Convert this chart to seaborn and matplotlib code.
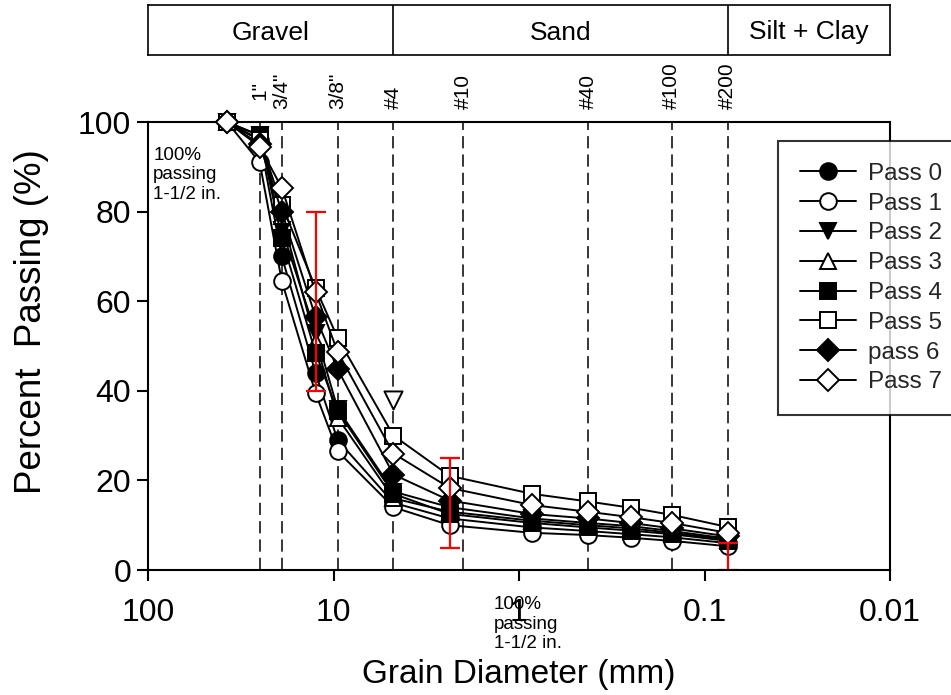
import numpy as np
import pandas as pd
import matplotlib
matplotlib.use('Agg')
import matplotlib.pyplot as plt
import seaborn as sns
from matplotlib.transforms import blended_transform_factory

# ---------------- data ----------------
sizes = [37.5, 25.0, 19.0, 12.5, 9.5, 4.75, 2.36, 0.85, 0.425, 0.25, 0.15, 0.075]
pass0 = [100, 96, 70, 44, 29, 15, 11.5, 9.5, 8.7, 8.0, 7.3, 6.0]
pass1 = [100, 91, 64.5, 39.5, 26.5, 14, 10, 8.3, 7.8, 7.2, 6.5, 5.3]
pass2 = [100, 97, 76, 53, 36, 17.5, 14, 11.5, 10.5, 9.8, 8.7, 7.0]
pass3 = [100, 96, 79, 51, 34, 16, 13, 11, 10, 9.3, 8.3, 6.8]
pass4 = [100, 97, 74, 48.5, 35.5, 17, 12.5, 10.5, 9.5, 8.8, 8.0, 6.5]
pass5 = [100, 96, 81.5, 63, 51.8, 30, 21, 17, 15.3, 13.9, 12.3, 9.6]
pass6 = [100, 95, 80, 56.5, 44.8, 21.3, 15.5, 12.5, 11.5, 10.5, 9.3, 7.5]
pass7 = [100, 94.5, 85.3, 62, 48.7, 26, 18.3, 14.5, 13, 11.8, 10.5, 8.3]
series_names = ['Pass 0', 'Pass 1', 'Pass 2', 'Pass 3', 'Pass 4', 'Pass 5', 'pass 6', 'Pass 7']

extra_x = [4.75]
extra_y = [38]

sieve_sizes = [25, 19, 9.5, 4.75, 2.0, 0.425, 0.15, 0.075]
sieve_labels = ['1"', '3/4"', '3/8"', '#4', '#10', '#40', '#100', '#200']

spec_x = [12.5, 2.36, 0.075]
spec_lo = [40, 5, 0]
spec_hi = [80, 25, 6]

zone_bounds = [100, 4.75, 0.075, 0.01]
zone_names = ['Gravel', 'Sand', 'Silt + Clay']

x_ticks = [100, 10, 1, 0.1, 0.01]
x_ticklabels = ['100', '10', '1', '0.1', '0.01']
y_ticks = [0, 20, 40, 60, 80, 100]

note_text = '100%\npassing\n1-1/2 in.'

# ---------------- style ----------------
sns.set_theme(style='white')
plt.rcParams['font.family'] = ['Liberation Sans', 'DejaVu Sans']
plt.rcParams['axes.edgecolor'] = 'black'
plt.rcParams['axes.linewidth'] = 1.5

W, H = 951, 695
fig = plt.figure(figsize=(W / 100, H / 100), dpi=100)
L, R, T, B = 148, 890, 122, 570
ax = fig.add_axes([L / W, 1 - B / H, (R - L) / W, (B - T) / H])

markers = ['o', 'o', 'v', '^', 's', 's', 'D', 'D']
fills = ['black', 'white', 'black', 'white', 'black', 'white', 'black', 'white']
msizes = [12, 12, 12, 12, 11, 11, 11, 11]
data = [pass0, pass1, pass2, pass3, pass4, pass5, pass6, pass7]

for name, vals, m, fc, ms in zip(series_names, data, markers, fills, msizes):
    df = pd.DataFrame({'size': sizes, 'passing': vals})
    sns.lineplot(data=df, x='size', y='passing', ax=ax, color='black', lw=1.4,
                 marker=m, markerfacecolor=fc, markeredgecolor='black',
                 markeredgewidth=1.4, markersize=ms, label=name,
                 clip_on=False, zorder=6)

sns.scatterplot(x=extra_x, y=extra_y, ax=ax, marker='v', s=170,
                facecolor='white', edgecolor='black', linewidth=1.4, zorder=6)

# spec error bars
mid = [(a + b) / 2 for a, b in zip(spec_lo, spec_hi)]
err = [[m - a for m, a in zip(mid, spec_lo)], [b - m for m, b in zip(mid, spec_hi)]]
ax.errorbar(spec_x, mid, yerr=err, fmt='none', ecolor='red', elinewidth=1.6,
            capsize=7, capthick=1.6, zorder=6.5)

# sieve dashed lines
for s in sieve_sizes:
    ax.axvline(s, color='black', lw=1.1, ls=(0, (8, 4)), zorder=1)

ax.set_xscale('log')
ax.set_xlim(100, 0.01)
ax.set_ylim(0, 100)
ax.set_xticks(x_ticks)
ax.set_xticklabels(x_ticklabels)
ax.xaxis.set_minor_locator(matplotlib.ticker.NullLocator())
ax.set_yticks(y_ticks)
ax.tick_params(axis='both', which='major', direction='out', length=8, width=1.5,
               labelsize=23, colors='black', pad=4)
ax.tick_params(axis='x', bottom=True, top=False, pad=12)
ax.tick_params(axis='y', left=True, right=False)
ax.spines['bottom'].set_zorder(7)
for sp in ax.spines.values():
    sp.set_color('black')
    sp.set_linewidth(1.5)

ax.set_xlabel('Grain Diameter (mm)', fontsize=24, color='black')
ax.xaxis.label.set_va('center')
ax.xaxis.set_label_coords(0.5, (B - 675) / (B - T))
ax.set_ylabel('Percent  Passing (%)', fontsize=26.5, color='black')
ax.yaxis.label.set_va('center')
ax.yaxis.set_label_coords((32 - L) / (R - L), (B - 322) / (B - T))

# sieve labels
trans = blended_transform_factory(ax.transData, ax.transAxes)
for s, lab in zip(sieve_sizes, sieve_labels):
    yy = 1.048 if lab == '1"' else 1.03
    ax.text(s, yy, lab, rotation=90, ha='center', va='bottom', fontsize=15,
            transform=trans, color='black')

# notes
ax.text(0.007, 0.945, note_text, transform=ax.transAxes, ha='left', va='top',
        fontsize=13.5, color='black', linespacing=1.2)
fig.text(494 / W, 1 - 596 / H, note_text, ha='left', va='top', fontsize=13.5,
         color='black', linespacing=1.2)

# legend
leg = ax.legend(loc='upper left', bbox_to_anchor=(778 / W, 1 - 141 / H),
                bbox_transform=fig.transFigure, frameon=True, fancybox=False,
                edgecolor='black', fontsize=17.5, handlelength=2.3,
                handletextpad=0.5, labelspacing=0.32, borderpad=0.9,
                borderaxespad=0)
leg.get_frame().set_linewidth(1.5)
leg.set_zorder(10)

# top zone box
axt = fig.add_axes([L / W, 1 - 55 / H, (R - L) / W, 50 / H])
axt.set_xscale('log')
axt.set_xlim(100, 0.01)
axt.set_ylim(0, 1)
axt.set_xticks([])
axt.set_yticks([])
axt.xaxis.set_minor_locator(matplotlib.ticker.NullLocator())
for sp in axt.spines.values():
    sp.set_color('black')
    sp.set_linewidth(1.2)
for b in zone_bounds[1:-1]:
    axt.axvline(b, color='black', lw=1.2)
for i, name in enumerate(zone_names):
    cx = np.sqrt(zone_bounds[i] * zone_bounds[i + 1])
    axt.text(cx, 0.45, name, ha='center', va='center', fontsize=19, color='black')

fig.savefig('out.png', dpi=100, facecolor='white')
